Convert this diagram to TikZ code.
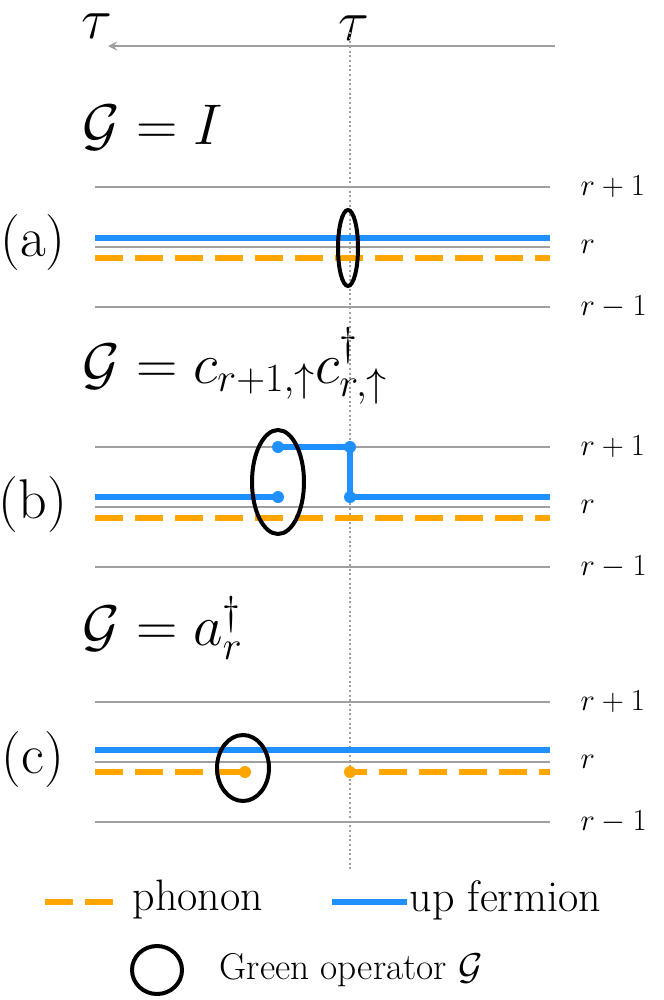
\RequirePackage{fix-cm}
\documentclass[tikz,border=0pt]{standalone}
\usepackage{amsmath}
\usepackage{fontspec}
\DeclareMathSizes{23}{23}{16}{12}
\begin{document}
\begin{tikzpicture}[x=0.75pt,y=-0.75pt,
  gl/.style={gray!75,line width=1.5pt},
  fb/.style={draw=fbl,line width=4.5pt},
  ph/.style={draw=orng,line width=4.5pt,dash pattern=on 21pt off 9pt},
  lab/.style={font=\fontsize{23}{27}\selectfont},
  leg/.style={font=\fontsize{33}{40}\selectfont},
  big/.style={font=\fontsize{43}{50}\selectfont},
  par/.style={font=\fontsize{42}{50}\selectfont},
  dotb/.style={circle,fill=fbl,inner sep=0pt,minimum size=9pt},
  doto/.style={circle,fill=orng,inner sep=0pt,minimum size=9pt}]
\definecolor{fbl}{HTML}{1E90FF}\definecolor{orng}{HTML}{FFA500}
\useasboundingbox (0,0) rectangle (664,1000);
\coordinate (ta) at (555,46); \coordinate (tb) at (108,46);
\draw[gray!75,line width=2pt,-stealth] (ta) -- (tb);
\node[big,inner sep=0pt] (t1) at (97,26) {$\tau$};
\node[big,inner sep=0pt] (t2) at (354,28) {$\tau$};
\coordinate (v1) at (350,32); \coordinate (v2) at (350,870);
\draw[gray!75,line width=1.5pt,dotted] (v1) -- (v2);
% (a)
\node[big,anchor=west] (ga) at (78,128) {$\mathcal{G}=I$};
\foreach \y/\t in {187/r+1,247/r,307/r-1}{\draw[gl] (95,\y) -- (550,\y); \node[lab,anchor=west] at (576,\y) {$\t$};}
\node[par,inner sep=0pt] (la) at (33,243) {(a)};
\draw[fb] (95,238) -- (550,238);
\draw[ph] (95,258) -- (550,258);
\draw[black,line width=3pt] (348,248) ellipse [x radius=10, y radius=38];
% (b)
\node[big,anchor=west] (gb) at (78,366) {$\mathcal{G}=c_{r+1,\uparrow}c^{\dagger}_{r,\uparrow}$};
\foreach \y/\t in {447/r+1,507/r,567/r-1}{\draw[gl] (95,\y) -- (550,\y); \node[lab,anchor=west] at (576,\y) {$\t$};}
\node[par,inner sep=0pt] (lb) at (33,505) {(b)};
\node[dotb] (b1) at (278,497) {}; \node[dotb] (b2) at (278,447) {};
\node[dotb] (b3) at (350,447) {}; \node[dotb] (b4) at (350,497) {};
\draw[fb] (95,497) -- (b1.center);
\draw[fb] (b2.center) -- (b3.center) -- (b4.center) -- (550,497);
\draw[ph] (95,518) -- (550,518);
\draw[black,line width=3pt] (278,482) ellipse [x radius=26, y radius=52];
% (c)
\node[big,anchor=west] (gc) at (78,628) {$\mathcal{G}=a^{\dagger}_{r}$};
\foreach \y/\t in {702/r+1,762/r,822/r-1}{\draw[gl] (95,\y) -- (550,\y); \node[lab,anchor=west] at (576,\y) {$\t$};}
\node[par,inner sep=0pt] (lc) at (33,760) {(c)};
\draw[fb] (95,750) -- (550,750);
\node[doto] (c1) at (245,772) {}; \node[doto] (c2) at (350,772) {};
\draw[ph] (95,772) -- (c1.center);
\draw[ph,dash phase=8pt] (c2.center) -- (550,772);
\draw[black,line width=3pt] (243,768) ellipse [x radius=26, y radius=33];
% legend
\draw[ph] (45,902) -- (117,902);
\node[leg,anchor=west] (lp) at (128,900) {phonon};
\draw[fb] (332,902) -- (407,902);
\node[leg,anchor=west] (lu) at (405,900) {up fermion};
\draw[black,line width=3pt] (157,970) ellipse [x radius=25, y radius=24];
\node[anchor=west,font=\fontsize{28}{34}\selectfont] (lg) at (215,970) {Green operator $\mathcal{G}$};
\end{tikzpicture}
\end{document}
